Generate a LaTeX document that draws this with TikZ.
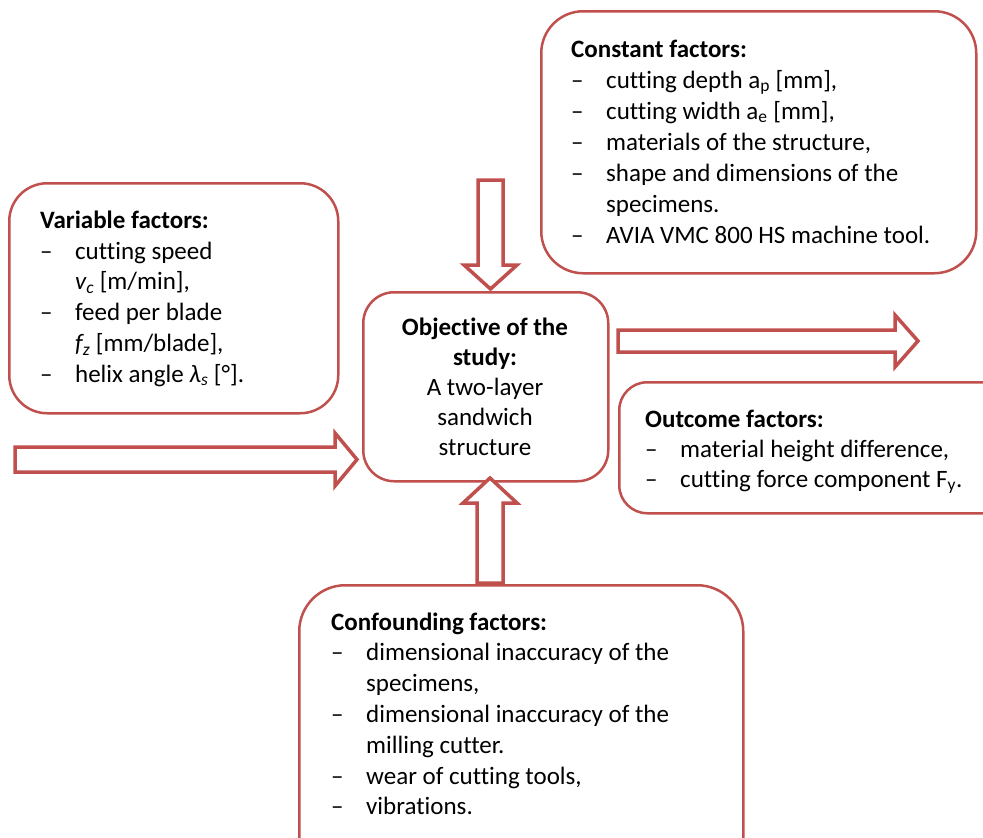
\documentclass[tikz,border=0pt]{standalone}
\usepackage{fontspec}
\setmainfont{Carlito}[Ligatures=NoCommon]
\definecolor{boxred}{RGB}{192,80,77}
\newcommand\itm{\makebox[35pt][l]{–}}
\begin{document}
\begin{tikzpicture}[x=1pt,y=-1pt,
  frame/.style={draw=boxred, line width=2.5pt, fill=white, anchor=north west, inner sep=0pt},
  blockarrow/.style={draw=boxred, line width=3.5pt, fill=white, line join=miter},
  txt/.style={anchor=base west, inner sep=0pt, font=\fontsize{25}{30}\selectfont},
  ctxt/.style={anchor=base, inner sep=0pt, font=\fontsize{25}{30}\selectfont}]
\useasboundingbox (0,0) rectangle (983,838);
\clip (0,0) rectangle (983,838);
% boxes
\node[frame, rounded corners=42pt, minimum width=435pt, minimum height=262pt] (const) at (540,10) {};
\node[frame, rounded corners=38pt, minimum width=329pt, minimum height=230pt] (var) at (8,182) {};
\node[frame, rounded corners=31pt, minimum width=245pt, minimum height=189pt] (obj) at (362,291) {};
\node[frame, rounded corners=28pt, minimum width=420pt, minimum height=131pt] (outc) at (618,381) {};
\node[frame, rounded corners=46pt, minimum width=444pt, minimum height=300pt] (conf) at (298,584) {};
% block arrows
\draw[blockarrow] (478,180) -- (503,180) -- (503,265) -- (517,265) -- (490.5,289) -- (464,265) -- (478,265) -- cycle;
\draw[blockarrow] (618,330) -- (895,330) -- (895,315) -- (918,341) -- (895,367) -- (895,352) -- (618,352) -- cycle;
\draw[blockarrow] (15,447) -- (335,447) -- (335,433) -- (357,459.5) -- (335,486) -- (335,472) -- (15,472) -- cycle;
\draw[blockarrow] (477,583) -- (477,503) -- (463,503) -- (490,478) -- (517,503) -- (503,503) -- (503,583) -- cycle;
% texts
\foreach \t [count=\i from 0] in {{\textbf{Constant factors:}},
  {\itm cutting depth a\textsubscript{p} [mm],},
  {\itm cutting width a\textsubscript{e} [mm],},
  {\itm materials of the structure,},
  {\itm shape and dimensions of the},
  {\hspace*{35pt}specimens.},
  {\itm AVIA VMC 800 HS machine tool.}}
  \node[txt] (ct\i) at (571,57+31.1*\i) {\t};
\foreach \t [count=\i from 0] in {{\textbf{Variable factors:}},
  {\itm cutting speed},
  {\hspace*{35pt}\textit{v\textsubscript{c}} [m/min],},
  {\itm feed per blade},
  {\hspace*{35pt}\textit{f\textsubscript{z}} [mm/blade],},
  {\itm helix angle \textit{λ\textsubscript{s}} [°].}}
  \node[txt] (vt\i) at (40,228.5+30.7*\i) {\t};
\foreach \t [count=\i from 0] in {{\textbf{Objective of the}},
  {\textbf{study:}}, {A two-layer}, {sandwich}, {structure}}
  \node[ctxt] (ot\i) at (485,335+30*\i) {\t};
\foreach \t [count=\i from 0] in {{\textbf{Outcome factors:}},
  {\itm material height difference,},
  {\itm cutting force component F\textsubscript{y}.}}
  \node[txt] (ut\i) at (645,427+30*\i) {\t};
\foreach \t [count=\i from 0] in {{\textbf{Confounding factors:}},
  {\itm dimensional inaccuracy of the},
  {\hspace*{35pt}specimens,},
  {\itm dimensional inaccuracy of the},
  {\hspace*{35pt}milling cutter.},
  {\itm wear of cutting tools,},
  {\itm vibrations.}}
  \node[txt] (ft\i) at (331,630+30.8*\i) {\t};
\end{tikzpicture}
\end{document}
